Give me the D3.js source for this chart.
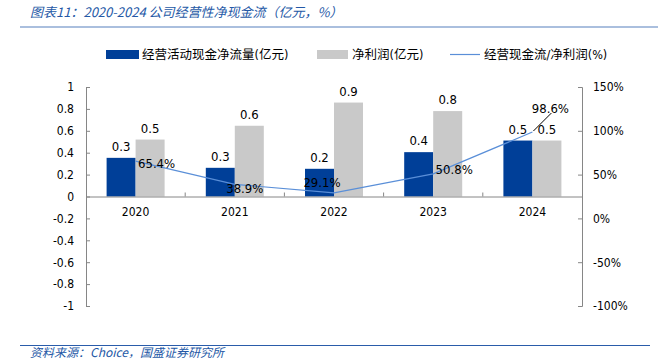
<!DOCTYPE html>
<html>
<head>
<meta charset="utf-8">
<script src="https://cdn.jsdelivr.net/npm/d3@7"></script>
<style>
  body { margin: 0; background: #fff; }
  svg text { font-family: "DejaVu Sans Condensed", "DejaVu Sans", "Noto Sans CJK SC", sans-serif; }
</style>
</head>
<body>
<div id="chart"></div>
<script>
// data
const years = ['2020', '2021', '2022', '2023', '2024']
const cashFlow = [0.353, 0.262, 0.253, 0.405, 0.511]
const cashFlowLabels = ['0.3', '0.3', '0.2', '0.4', '0.5']
const netProfit = [0.52, 0.646, 0.858, 0.78, 0.511]
const netProfitLabels = ['0.5', '0.6', '0.9', '0.8', '0.5']
const ratio = [65.4, 38.9, 29.1, 50.8, 98.6]
const leftTicks = [1, 0.8, 0.6, 0.4, 0.2, 0, -0.2, -0.4, -0.6, -0.8, -1]
const rightTicks = [150, 100, 50, 0, -50, -100]

const W = 658, H = 361
const margin = {top: 87, right: 76, bottom: 55, left: 86}
const width = W - margin.left - margin.right,
    height = H - margin.top - margin.bottom

const blue = '#003f98', gray = '#c9c9c9', lineBlue = '#5a8fd8', titleBlue = '#2458a6'

const root = d3.select('#chart').append('svg')
    .attr('width', W).attr('height', H)

// title + rules
root.append('text')
    .attr('x', 30).attr('y', 17)
    .attr('fill', titleBlue)
    .attr('font-size', 13)
    .attr('font-style', 'italic')
    .style('font-family', '"Noto Sans CJK SC", sans-serif')
    .text('图表11：2020-2024 公司经营性净现金流（亿元，%）')
root.append('line')
    .attr('x1', 20).attr('x2', W).attr('y1', 27).attr('y2', 27)
    .attr('stroke', '#8eaad3').attr('stroke-width', 1.5)
root.append('line')
    .attr('x1', 20).attr('x2', 650).attr('y1', 345.5).attr('y2', 345.5)
    .attr('stroke', '#2a5caa').attr('stroke-width', 1.2)
root.append('text')
    .attr('x', 30).attr('y', 357)
    .attr('fill', titleBlue)
    .attr('font-size', 12)
    .attr('font-style', 'italic')
    .style('font-family', '"Noto Sans CJK SC", sans-serif')
    .text('资料来源：Choice，国盛证券研究所')

// legend
const legend = root.append('g').attr('font-size', 12.5).attr('fill', '#000')
legend.append('rect').attr('x', 106).attr('y', 50).attr('width', 33).attr('height', 9).attr('fill', blue)
legend.append('text').attr('x', 142).attr('y', 59).text('经营活动现金净流量(亿元)')
legend.append('rect').attr('x', 317).attr('y', 50).attr('width', 31).attr('height', 9).attr('fill', gray)
legend.append('text').attr('x', 352).attr('y', 59).text('净利润(亿元)')
legend.append('line').attr('x1', 450).attr('x2', 480).attr('y1', 54.5).attr('y2', 54.5)
    .attr('stroke', lineBlue).attr('stroke-width', 1.2)
legend.append('text').attr('x', 484).attr('y', 59).text('经营现金流/净利润(%)')

const svg = root.append('g')
    .attr('transform', 'translate(' + margin.left + ',' + margin.top + ')')

const x = d3.scaleBand().domain(years).range([0, width])
const y = d3.scaleLinear().domain([-1, 1]).range([height, 0])
const y2 = d3.scaleLinear().domain([-100, 150]).range([height, 0])
const barW = 29

// bars
svg.selectAll('.cf').data(years).enter().append('rect').attr('class', 'cf')
    .attr('x', d => x(d) + x.bandwidth() / 2 - barW)
    .attr('width', barW)
    .attr('y', (d, i) => y(cashFlow[i]))
    .attr('height', (d, i) => y(0) - y(cashFlow[i]))
    .attr('fill', blue)
svg.selectAll('.np').data(years).enter().append('rect').attr('class', 'np')
    .attr('x', d => x(d) + x.bandwidth() / 2)
    .attr('width', barW)
    .attr('y', (d, i) => y(netProfit[i]))
    .attr('height', (d, i) => y(0) - y(netProfit[i]))
    .attr('fill', gray)

// axes
const axisColor = '#868686'
const gLeft = svg.append('g')
    .call(d3.axisLeft(y).tickValues(leftTicks).tickSize(-4).tickPadding(12)
      .tickFormat(d => d === 0 ? '0' : String(+d.toFixed(1))))
gLeft.selectAll('text').attr('font-size', 12).attr('fill', '#000')

const gRight = svg.append('g').attr('transform', 'translate(' + width + ',0)')
    .call(d3.axisRight(y2).tickValues(rightTicks).tickSize(-4).tickPadding(11)
      .tickFormat(d => d + '%'))
gRight.selectAll('text').attr('font-size', 12).attr('fill', '#000')

const gBottom = svg.append('g').attr('transform', 'translate(0,' + y(0) + ')')
    .call(d3.axisBottom(x).tickSize(0).tickPadding(11))
gBottom.selectAll('text').attr('font-size', 12).attr('fill', '#000')
// category boundary ticks pointing up
svg.selectAll('.ctick').data(years.slice(1)).enter().append('line').attr('class', 'ctick')
    .attr('x1', d => x(d)).attr('x2', d => x(d))
    .attr('y1', y(0)).attr('y2', y(0) - 4)
    .attr('stroke', axisColor)

for (const g of [gLeft, gRight, gBottom]) {
  g.select('.domain').attr('stroke', axisColor)
  g.selectAll('.tick line').attr('stroke', axisColor)
}

// value labels
svg.selectAll('.cfl').data(years).enter().append('text').attr('class', 'cfl')
    .attr('x', d => x(d) + x.bandwidth() / 2 - barW / 2)
    .attr('y', (d, i) => y(cashFlow[i]) - 7)
    .attr('text-anchor', 'middle').attr('font-size', 13)
    .text((d, i) => cashFlowLabels[i])
svg.selectAll('.npl').data(years).enter().append('text').attr('class', 'npl')
    .attr('x', d => x(d) + x.bandwidth() / 2 + barW / 2)
    .attr('y', (d, i) => y(netProfit[i]) - 7)
    .attr('text-anchor', 'middle').attr('font-size', 13)
    .text((d, i) => netProfitLabels[i])

// ratio line
const line = d3.line()
    .x((d, i) => x(years[i]) + x.bandwidth() / 2)
    .y(d => y2(d))
svg.append('path').datum(ratio)
    .attr('fill', 'none').attr('stroke', lineBlue).attr('stroke-width', 1.2)
    .attr('d', line)

// ratio labels, offsets relative to each point
const labelOffsets = [[21, 2], [10, 4], [-12, -10], [21, -4], [18, -24]]
svg.selectAll('.rl').data(ratio).enter().append('text').attr('class', 'rl')
    .attr('x', (d, i) => x(years[i]) + x.bandwidth() / 2 + labelOffsets[i][0])
    .attr('y', (d, i) => y2(d) + labelOffsets[i][1])
    .attr('dy', '0.35em')
    .attr('text-anchor', 'middle').attr('font-size', 13)
    .text(d => d.toFixed(1) + '%')

// leader for the last label
const lx = x(years[4]) + x.bandwidth() / 2, ly = y2(ratio[4])
svg.append('line')
    .attr('x1', lx + 1).attr('y1', ly - 1)
    .attr('x2', lx + 19).attr('y2', ly - 19)
    .attr('stroke', '#000').attr('stroke-width', 1)
</script>
</body>
</html>
